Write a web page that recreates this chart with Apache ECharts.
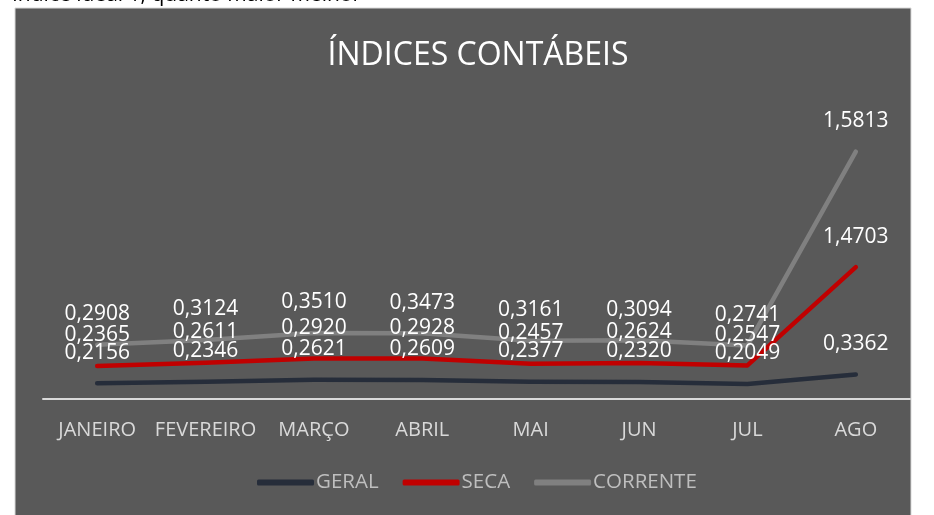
<!DOCTYPE html>
<html>
<head>
<meta charset="utf-8">
<script src="https://cdn.jsdelivr.net/npm/echarts@6/dist/echarts.min.js"></script>
<style>
  html, body { margin: 0; padding: 0; background: #fff; }
  #chart { width: 934px; height: 515px; }
</style>
</head>
<body>
<div id="chart"></div>
<script>
const months = ['JANEIRO', 'FEVEREIRO', 'MARÇO', 'ABRIL', 'MAI', 'JUN', 'JUL', 'AGO'];
const geral = [0.2156, 0.2346, 0.2621, 0.2609, 0.2377, 0.2320, 0.2049, 0.3362];
const seca = [0.2365, 0.2611, 0.2920, 0.2928, 0.2457, 0.2624, 0.2547, 1.4703];
const corrente = [0.2908, 0.3124, 0.3510, 0.3473, 0.3161, 0.3094, 0.2741, 1.5813];

const FONT = '"Open Sans", sans-serif';

function fmt(p) {
  return p.value.toFixed(4).replace('.', ',');
}

function mkSeries(name, data, color) {
  return {
    name: name,
    type: 'line',
    stack: 'total',
    data: data,
    symbol: 'circle',
    symbolSize: 0.1,
    showSymbol: true,
    lineStyle: { color: color, width: 4.5, cap: 'round', join: 'round' },
    itemStyle: { color: color },
    label: {
      show: true,
      position: 'top',
      distance: 20,
      color: '#ffffff',
      fontFamily: FONT,
      fontSize: 21,
      formatter: fmt
    },
    emphasis: { disabled: true }
  };
}

let chart = echarts.init(document.getElementById('chart'), null, { renderer: 'canvas' });

let option = {
  backgroundColor: '#ffffff',
  animation: false,
  graphic: [
    {
      type: 'text',
      left: 12,
      top: -15,
      style: {
        text: 'Índice ideal 1, quanto maior melhor',
        fontFamily: FONT,
        fontSize: 21,
        fill: '#000'
      }
    },
    {
      type: 'rect',
      z: -10,
      shape: { x: 15, y: 8, width: 896, height: 520 },
      style: { fill: '#595959', stroke: '#d9d9d9', lineWidth: 1 }
    },
    {
      type: 'text',
      x: 478,
      y: 56,
      style: {
        text: 'ÍNDICES CONTÁBEIS',
        fontFamily: FONT,
        fontSize: 32,
        fill: '#ffffff',
        align: 'center',
        verticalAlign: 'middle'
      }
    }
  ],
  legend: {
    bottom: 17,
    left: 252,
    itemWidth: 57,
    itemHeight: 6,
    itemGap: 24,
    icon: 'roundRect',
    textStyle: { color: '#bfbfbf', fontFamily: FONT, fontSize: 20.5, padding: [0, 0, 0, -3] },
    data: ['GERAL', 'SECA', 'CORRENTE']
  },
  grid: { left: 43, right: 24, top: 107, bottom: 116 },
  xAxis: {
    type: 'category',
    data: months,
    boundaryGap: true,
    axisLine: { lineStyle: { color: '#d9d9d9', width: 2 } },
    axisTick: { show: false },
    axisLabel: { color: '#d9d9d9', fontFamily: FONT, fontSize: 20, margin: 21, interval: 0 }
  },
  yAxis: {
    type: 'value',
    min: 0,
    max: 4,
    show: false,
    splitLine: { show: false }
  },
  series: [
    mkSeries('GERAL', geral, '#262d3a'),
    mkSeries('SECA', seca, '#c00000'),
    mkSeries('CORRENTE', corrente, '#808080')
  ]
};

chart.setOption(option);
</script>
</body>
</html>
